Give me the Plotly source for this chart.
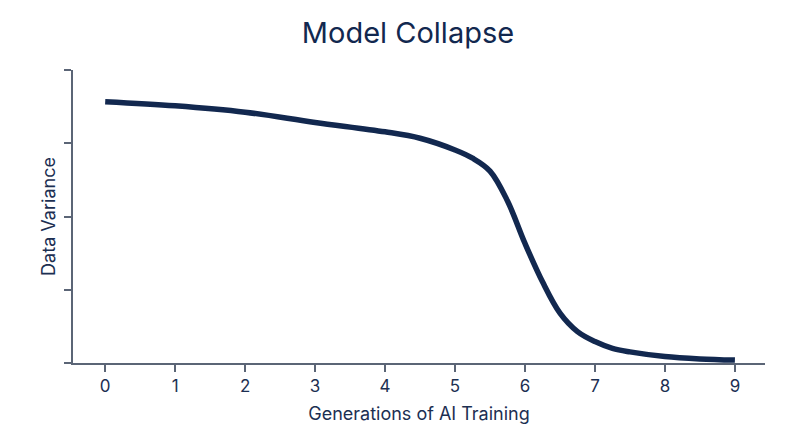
import plotly.graph_objects as go

# Dados
geracoes = [0, 1, 2, 3, 4, 4.5, 5, 5.25, 5.5, 5.75, 6, 6.25, 6.5, 6.75, 7, 7.25, 7.5, 8, 8.5, 9]
variancia = [0.892, 0.878, 0.856, 0.821, 0.789, 0.767, 0.727, 0.699, 0.655, 0.553,
             0.408, 0.277, 0.170, 0.107, 0.073, 0.050, 0.038, 0.022, 0.014, 0.010]
x_ticks = list(range(10))

COR_LINHA = "#12284f"
COR_EIXO = "#5b6576"
COR_TEXTO = "#1c2f52"

fig = go.Figure()
fig.add_trace(
    go.Scatter(
        x=geracoes, y=variancia, mode="lines",
        line=dict(color=COR_LINHA, width=5.5, shape="spline", smoothing=1),
        showlegend=False,
    )
)
fig.update_layout(
    title=dict(text="Model Collapse", x=0.5, xanchor="center", y=0.945, yanchor="middle",
               font=dict(size=29, color=COR_LINHA, family="Inter")),
    width=800, height=447,
    plot_bgcolor="white", paper_bgcolor="white",
    margin=dict(t=62, b=92, l=65, r=43),
    font=dict(family="Inter", color=COR_TEXTO),
)
fig.update_xaxes(
    range=[-0.46, 9.43], tickvals=x_ticks, showgrid=False, zeroline=False,
    showline=True, linecolor=COR_EIXO, linewidth=1.5,
    ticks="outside", ticklen=7, tickcolor=COR_EIXO, tickwidth=1.5,
    tickfont=dict(size=17, color=COR_TEXTO),
    title=dict(text="Generations of AI Training", font=dict(size=18, color=COR_TEXTO), standoff=12),
)
fig.update_yaxes(
    range=[0, 1], tickvals=[0, 0.25, 0.5, 0.75, 1], showticklabels=False,
    showgrid=False, zeroline=False,
    showline=True, linecolor=COR_EIXO, linewidth=1.5,
    ticks="outside", ticklen=7, tickcolor=COR_EIXO, tickwidth=1.5,
    title=dict(text="Data Variance", font=dict(size=18, color=COR_TEXTO), standoff=4),
)
fig.write_html("out.html")
